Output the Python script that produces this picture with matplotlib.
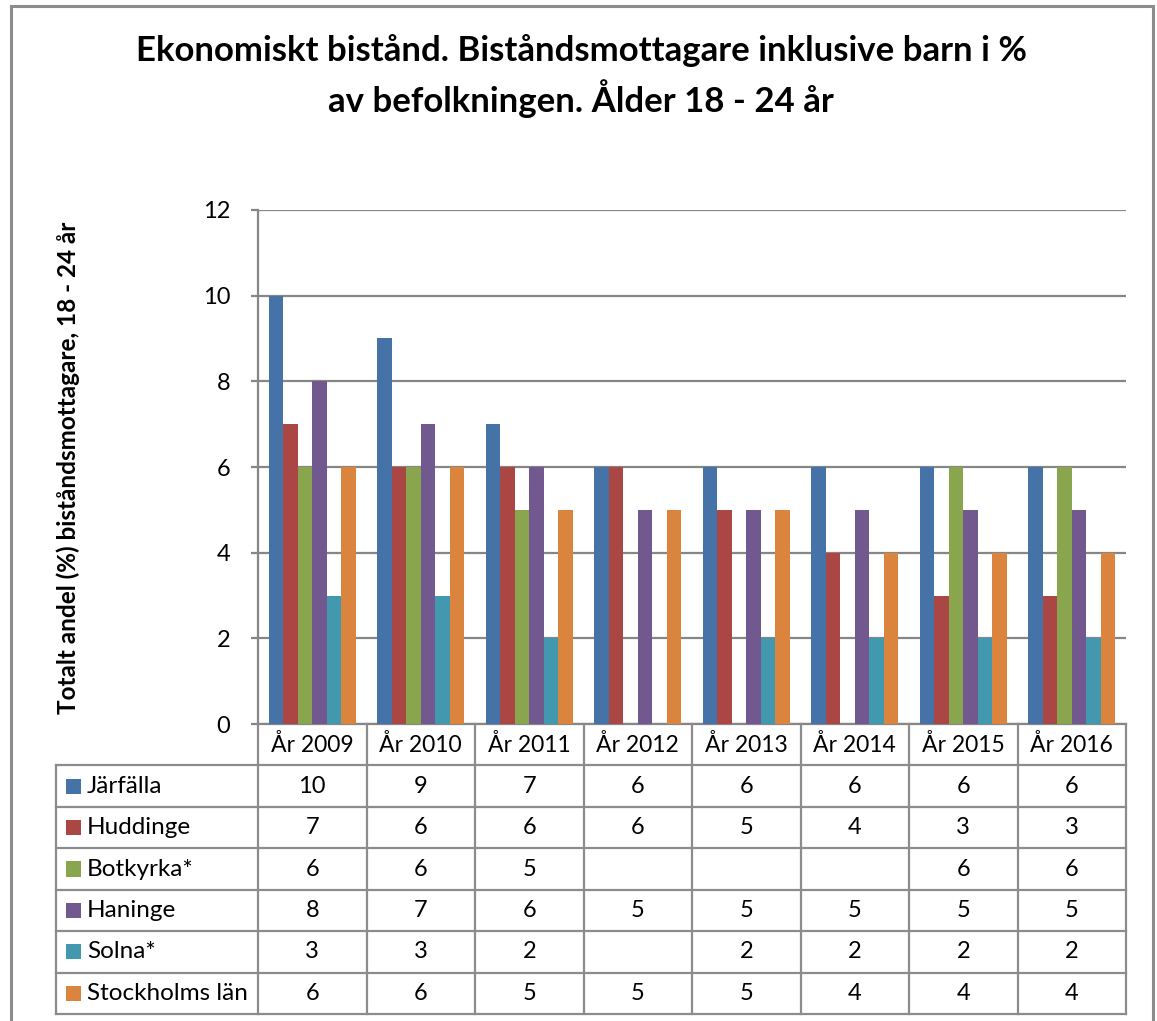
import numpy as np
import matplotlib
matplotlib.use("Agg")
import matplotlib.pyplot as plt
from matplotlib.patches import Rectangle

plt.rcParams['font.family'] = ['Lato', 'DejaVu Sans']

categories = ["År 2009", "År 2010", "År 2011", "År 2012", "År 2013", "År 2014", "År 2015", "År 2016"]
series_names = ["Järfälla", "Huddinge", "Botkyrka*", "Haninge", "Solna*", "Stockholms län"]
jarfalla = [10, 9, 7, 6, 6, 6, 6, 6]
huddinge = [7, 6, 6, 6, 5, 4, 3, 3]
botkyrka = [6, 6, 5, None, None, None, 6, 6]
haninge = [8, 7, 6, 5, 5, 5, 5, 5]
solna = [3, 3, 2, None, 2, 2, 2, 2]
stockholms_lan = [6, 6, 5, 5, 5, 4, 4, 4]
series_values = [jarfalla, huddinge, botkyrka, haninge, solna, stockholms_lan]
colors = ["#4572A7", "#AA4643", "#89A54E", "#71588F", "#4198AF", "#DB843D"]
yticks = [0, 2, 4, 6, 8, 10, 12]

title = "Ekonomiskt bistånd. Biståndsmottagare inklusive barn i %\nav befolkningen. Ålder 18 - 24 år"
ylabel = "Totalt andel (%) biståndsmottagare, 18 - 24 år"

W, H = 1157, 1021
fig = plt.figure(figsize=(W / 100, H / 100), dpi=100)

def fx(px):
    return px / W

def fy(py):
    return 1 - py / H

grid_col = "#868686"
line_col = "#8c8c8c"

# outer frame
fig.add_artist(Rectangle((fx(11), fy(1030)), fx(1153 - 11), (1030 - 6) / H,
                         transform=fig.transFigure, fill=False,
                         edgecolor=line_col, linewidth=2.2))

ax_l, ax_r, ax_t, ax_b = 258, 1126, 210, 724
ax = fig.add_axes([fx(ax_l), fy(ax_b), fx(ax_r - ax_l), (ax_b - ax_t) / H])

n = len(categories)
ns = len(series_names)
x = np.arange(n)
bw = 1 / 7.5
for i, (vals, c) in enumerate(zip(series_values, colors)):
    v = np.array([np.nan if a is None else a for a in vals], dtype=float)
    ax.bar(x + (i - (ns - 1) / 2) * bw, v, width=bw, color=c, linewidth=0, zorder=3)

ax.set_xlim(-0.5, n - 0.5)
ax.set_ylim(0, 12)
ax.set_yticks(yticks)
ax.set_yticklabels([str(t) for t in yticks], fontsize=17)
ax.set_xticks([])
ax.yaxis.grid(True, color=grid_col, linewidth=1.6, zorder=0)
ax.set_axisbelow(True)
for s in ["top", "right"]:
    ax.spines[s].set_visible(False)
ax.spines["left"].set_color(grid_col)
ax.spines["left"].set_linewidth(1.6)
ax.spines["bottom"].set_color(grid_col)
ax.spines["bottom"].set_linewidth(1.6)
ax.tick_params(axis="y", length=5, width=1.6, color=grid_col, pad=15)

# data table
tab_l, tab_b = 56, 1014
cw = (ax_r - ax_l) / n
x_left = -0.5 - (ax_l - tab_l) / cw
tax = fig.add_axes([fx(tab_l), fy(tab_b), fx(ax_r - tab_l), (tab_b - ax_b) / H])
tax.set_xlim(x_left, n - 0.5)
tax.set_ylim(7, 0)
tax.axis("off")
for r in range(1, 8):
    tax.plot([x_left, n - 0.5], [r, r], color=line_col, lw=1.6, solid_capstyle="projecting", clip_on=False)
for k in range(n + 1):
    tax.plot([-0.5 + k, -0.5 + k], [0, 7], color=line_col, lw=1.6, solid_capstyle="projecting", clip_on=False)
tax.plot([x_left, x_left], [1, 7], color=line_col, lw=1.6, solid_capstyle="projecting", clip_on=False)

fs = 17
for j, cat in enumerate(categories):
    tax.text(j, 0.5, cat, ha="center", va="center", fontsize=16.5)
sq_w = 15 / cw
sq_h = 15 / 41.4
for i, (name, vals, c) in enumerate(zip(series_names, series_values, colors)):
    r = i + 1.5
    tax.add_patch(Rectangle((x_left + 10 / cw, r - sq_h / 2), sq_w, sq_h, facecolor=c, edgecolor="none"))
    tax.text(x_left + 31 / cw, r, name, ha="left", va="center", fontsize=17.5)
    for j, v in enumerate(vals):
        if v is not None:
            tax.text(j, r, str(v), ha="center", va="center", fontsize=fs)

fig.text(fx(581), fy(76), title, ha="center", va="center", fontsize=25,
         fontweight="bold", linespacing=1.35)
fig.text(fx(68), fy(468), ylabel, ha="center", va="center", rotation=90,
         fontsize=17.5, fontweight="bold")

fig.savefig("out.png", dpi=100)
